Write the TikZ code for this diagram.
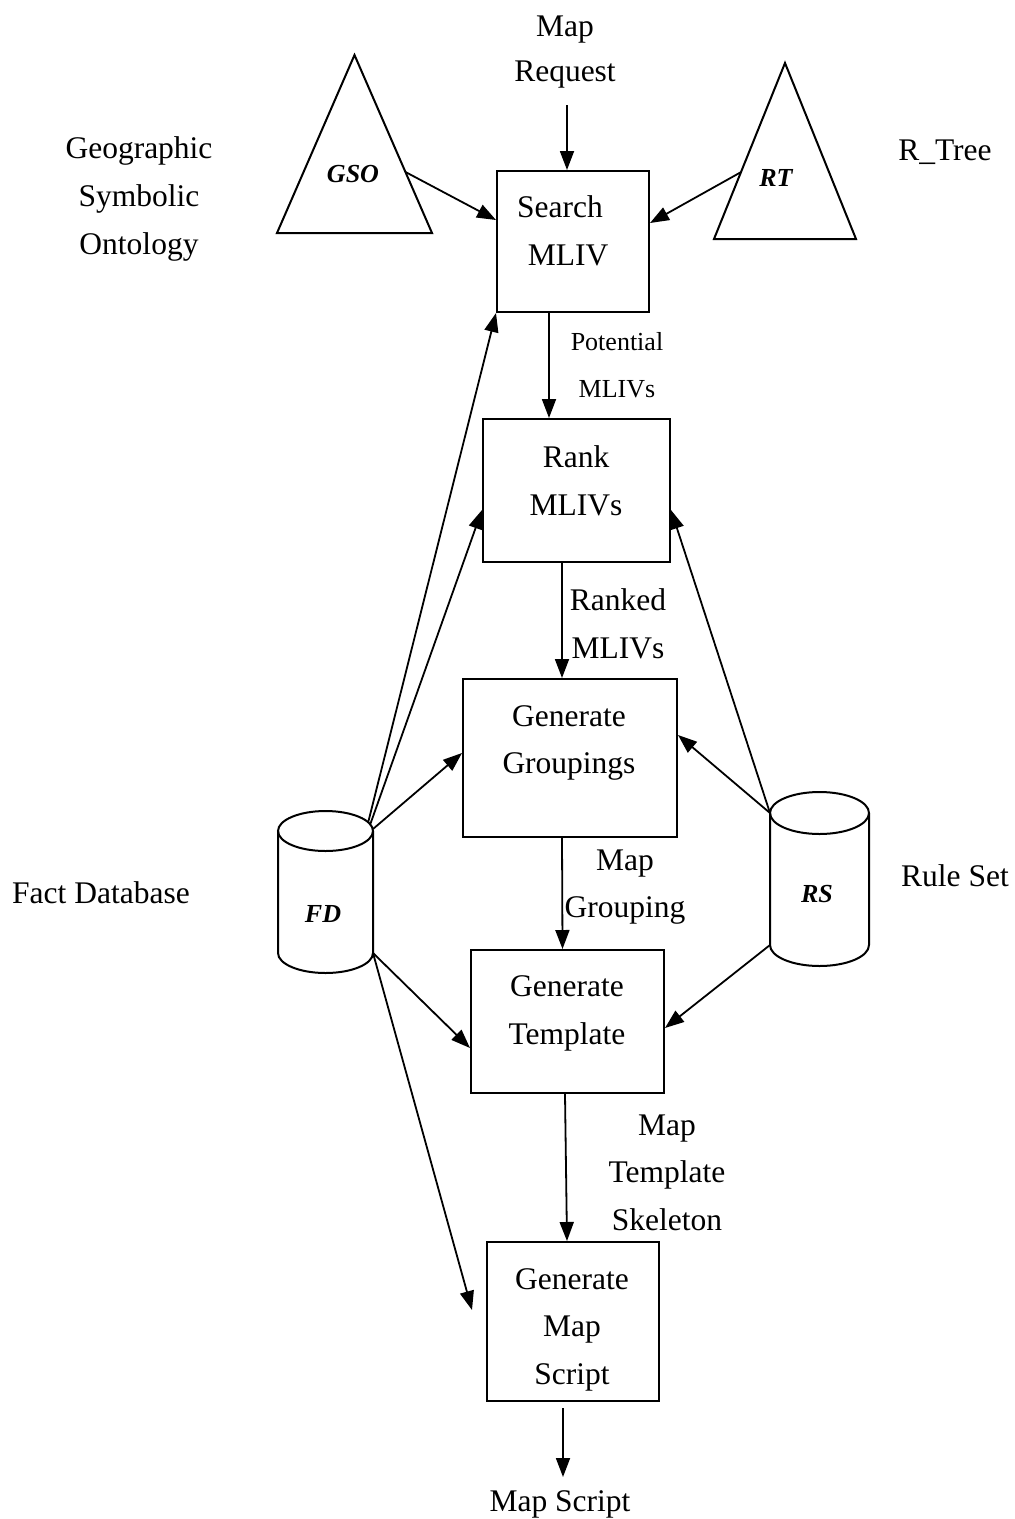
\documentclass[tikz,border=0pt]{standalone}
\usepackage{fontspec}
\setmainfont{Liberation Serif}
\usetikzlibrary{arrows.meta,calc}
\begin{document}
\begin{tikzpicture}[x=1pt,y=-1pt,
  box/.style={draw, line width=2pt, inner sep=0pt},
  holder/.style={inner sep=0pt, outer sep=0pt},
  shp/.style={line width=2pt, line join=miter},
  arr/.style={line width=1.8pt, -{Triangle[length=19pt,width=14pt]}},
  big/.style={inner sep=0pt, anchor=base, font=\fontsize{31.5}{38}\selectfont},
  small/.style={inner sep=0pt, anchor=base, font=\fontsize{26}{31}\selectfont},
  tag/.style={inner sep=0pt, anchor=base, font=\fontsize{26}{31}\selectfont\bfseries\itshape},
]
\useasboundingbox[fill=white] (0,0) rectangle (1015,1519);

% process boxes
\node[box, minimum width=152pt, minimum height=141pt] (search) at (573,241.5) {};
\node[box, minimum width=187pt, minimum height=143pt] (rank) at (576.5,490.5) {};
\node[box, minimum width=214pt, minimum height=158pt] (gengr) at (570,758) {};
\node[box, minimum width=193pt, minimum height=143pt] (gent) at (567.5,1021.5) {};
\node[box, minimum width=172pt, minimum height=159pt] (genms) at (573,1321.5) {};

% triangles
\node[holder, minimum width=155pt, minimum height=178pt] (gso) at (354.5,144) {};
\draw[shp] (gso.south west) -- (gso.north) -- (gso.south east) -- cycle;
\node[holder, minimum width=142pt, minimum height=176pt] (rt) at (785,151) {};
\draw[shp] (rt.south west) -- (rt.north) -- (rt.south east) -- cycle;

% cylinders
\node[holder, minimum width=95pt, minimum height=122pt] (fd) at (325.5,892) {};
\draw[shp] (fd.north west) -- (fd.south west)
  arc[start angle=180, end angle=0, x radius=47.5, y radius=20] -- (fd.north east);
\draw[shp] (fd.north) ellipse[x radius=47.5, y radius=20];
\node[holder, minimum width=99pt, minimum height=132pt] (rs) at (819.5,879) {};
\draw[shp] (rs.north west) -- (rs.south west)
  arc[start angle=180, end angle=0, x radius=49.5, y radius=21] -- (rs.north east);
\draw[shp] (rs.north) ellipse[x radius=49.5, y radius=21];

% texts
\node[big] (mapA) at (565,36) {Map};
\node[big] (mapB) at (565,81) {Request};
\node[big] (geoA) at (139,158) {Geographic};
\node[big] (geoB) at (139,206) {Symbolic};
\node[big] (geoC) at (139,254) {Ontology};
\node[big] (rtree) at (945,160) {R\_Tree};
\node[tag] (gsoT) at (353,182) {GSO};
\node[tag] (rtT) at (776,186) {RT};
\node[big] (seA) at (560,217) {Search};
\node[big] (seB) at (568,265) {MLIV};
\node[small] (poA) at (617,350) {Potential};
\node[small] (poB) at (617,397) {MLIVs};
\node[big] (raA) at (576,467) {Rank};
\node[big] (raB) at (576,515) {MLIVs};
\node[big] (rdA) at (618,610) {Ranked};
\node[big] (rdB) at (618,658) {MLIVs};
\node[big] (ggA) at (569,726) {Generate};
\node[big] (ggB) at (569,773) {Groupings};
\node[big] (mgA) at (625,870) {Map};
\node[big] (mgB) at (625,917) {Grouping};
\node[big] (gtA) at (567,996) {Generate};
\node[big] (gtB) at (567,1044) {Template};
\node[big] (mtA) at (667,1135) {Map};
\node[big] (mtB) at (667,1182) {Template};
\node[big] (mtC) at (667,1230) {Skeleton};
\node[big] (gmA) at (572,1289) {Generate};
\node[big] (gmB) at (572,1336) {Map};
\node[big] (gmC) at (572,1384) {Script};
\node[big] (mscr) at (560,1511) {Map Script};
\node[big] (fdb) at (101,903) {Fact Database};
\node[big] (rset) at (955,886) {Rule Set};
\node[tag] (fdT) at (323,922) {FD};
\node[tag] (rsT) at (817,902) {RS};

% free ends
\coordinate (reqOut) at (567,105);
\coordinate (gsoR) at ($(gso.north)!0.657!(gso.south east)$);
\coordinate (rtL) at ($(rt.north)!0.62!(rt.south west)$);
\coordinate (fdTop) at ([xshift=-5pt,yshift=8pt]fd.north east);
\coordinate (msIn) at (472,1310);
\coordinate (outEnd) at (563,1477);

% connectors
\draw[arr] (reqOut) -- ([xshift=-6pt]search.north);
\draw[arr] (gsoR) -- ([yshift=21.5pt]search.west);
\draw[arr] (rtL) -- ([yshift=18.5pt]search.east);
\draw[arr] ([xshift=-24pt]search.south) -- ([xshift=-27.5pt]rank.north);
\draw[arr] ([xshift=-14.5pt]rank.south) -- ([xshift=-8pt]gengr.north);
\draw[arr] ([xshift=-8pt]gengr.south) -- ([xshift=-5pt]gent.north);
\draw[arr] ([xshift=-2.5pt]gent.south) -- ([xshift=-6pt]genms.north);
\draw[arr] ([xshift=-10pt,yshift=-6pt]genms.south) -- (outEnd);
\draw[arr] (fdTop) -- (search.south west);
\draw[arr] ([xshift=-3pt,yshift=6pt]fd.north east) -- ([yshift=-19.5pt]rank.west);
\draw[arr] ([yshift=2pt]fd.north east) -- ([yshift=5pt]gengr.west);
\draw[arr] (fd.south east) -- ([yshift=-26.5pt]gent.west);
\draw[arr] (fd.south east) -- (msIn);
\draw[arr] (rs.north west) -- ([yshift=-19.5pt]rank.east);
\draw[arr] (rs.north west) -- ([yshift=23pt]gengr.east);
\draw[arr] (rs.south west) -- ([yshift=-6.5pt]gent.east);
\end{tikzpicture}
\end{document}
